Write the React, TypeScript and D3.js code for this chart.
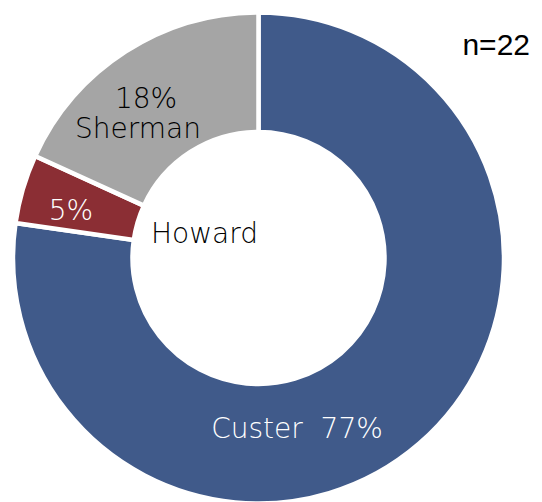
import React from 'react'
import * as d3 from 'd3'

// data (n=22)
const names = ['Custer', 'Howard', 'Sherman']
const counts = [17, 1, 4]
const colors = ['#405A8A', '#8B2E34', '#A5A5A5']
const total = 22

const W = 542
const H = 502
const cx = 258.5
const cy = 258
const outerR = 245.5
const innerR = 126

const App = () => {
  const pie = d3.pie<number>().sort(null).value((d) => d)
  const arcs = pie(counts)
  const arc = d3.arc<d3.PieArcDatum<number>>().innerRadius(innerR).outerRadius(outerR)
  const pct = (v: number) => Math.round((v / total) * 100) + '%'
  const font = "'DejaVu Sans', sans-serif"
  const fw = 200

  return (
    <svg width={W} height={H} style={{ position: 'absolute', left: 0, top: 0, background: '#fff' }}>
      <g transform={`translate(${cx},${cy})`}>
        {arcs.map((a, i) => (
          <path key={names[i]} d={arc(a) || ''} fill={colors[i]} stroke="#fff" strokeWidth={4.5} />
        ))}
      </g>
      {/* Custer label */}
      <text x={297} y={438} fill="#fff" fontFamily={font} fontWeight={fw} fontSize={28} textAnchor="middle">
        {names[0]}{'\u00a0\u00a0'}{pct(counts[0])}
      </text>
      {/* Howard: value in slice, name in hole */}
      <text x={71} y={220} fill="#fff" fontFamily={font} fontWeight={fw} fontSize={28} textAnchor="middle">
        {pct(counts[1])}
      </text>
      <text x={151} y={243} fill="#000" fontFamily={font} fontWeight={fw} fontSize={28}>
        {names[1]}
      </text>
      {/* Sherman */}
      <text x={146} y={108} fill="#000" fontFamily={font} fontWeight={fw} fontSize={28} textAnchor="middle">
        {pct(counts[2])}
      </text>
      <text x={138} y={138} fill="#000" fontFamily={font} fontWeight={fw} fontSize={28} textAnchor="middle">
        {names[2]}
      </text>
      <text x={530} y={55} fill="#000" fontFamily="'Liberation Sans', Arial, sans-serif" fontSize={30} textAnchor="end">
        n={total}
      </text>
    </svg>
  )
}

export default App
